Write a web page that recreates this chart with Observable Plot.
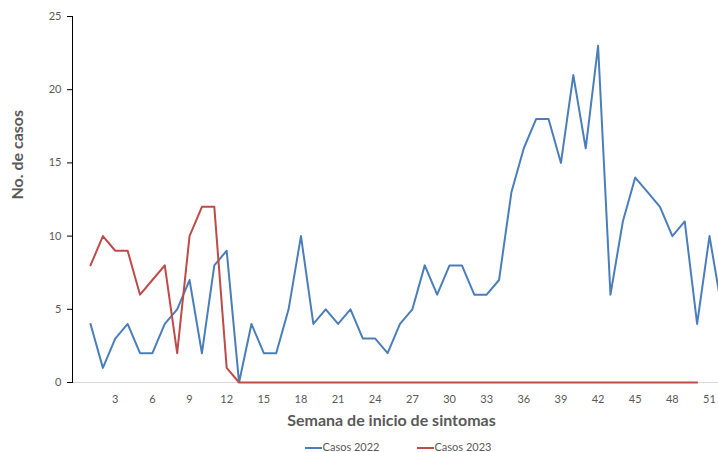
<!DOCTYPE html>
<html><head><meta charset="utf-8">
<script src="https://cdn.jsdelivr.net/npm/d3@7"></script>
<script src="https://cdn.jsdelivr.net/npm/@observablehq/plot@0.6"></script>
<style>
body{margin:0;background:#fff;font-family:Lato,"Open Sans",sans-serif}
#legend{display:flex;justify-content:center;gap:37px;font-size:11px;color:#595959;height:20px;align-items:center;padding-left:78px;margin-top:4px}
.sw{display:inline-block;width:17px;height:2px;vertical-align:middle;margin-right:1px}
</style></head><body><div id="chart"></div><div id="legend"></div>
<script>
const casos2022 = [4,1,3,4,2,2,4,5,7,2,8,9,0,4,2,2,5,10,4,5,4,5,3,3,2,4,5,8,6,8,8,6,6,7,13,16,18,18,15,21,16,23,6,11,14,13,12,10,11,4,10,5];
const casos2023 = [8,10,9,9,6,7,8,2,10,12,12,1,0].concat(new Array(37).fill(0));
const seriesNames = ["Casos 2022", "Casos 2023"];
const seriesColors = ["#4A7EBB", "#BE4B48"];
const xTicks = d3.range(3, 52, 3);
const yTicks = [0, 5, 10, 15, 20, 25];
const xLabel = "Semana de inicio de sintomas";
const yLabel = "No. de casos";

const rows2022 = casos2022.map((v, i) => ({semana: i + 1, casos: v, serie: seriesNames[0]}));
const rows2023 = casos2023.map((v, i) => ({semana: i + 1, casos: v, serie: seriesNames[1]}));

const chart = Plot.plot({
  width: 718,
  height: 432,
  marginLeft: 72,
  marginRight: 0,
  marginTop: 16,
  marginBottom: 50,
  style: {fontFamily: "Lato, 'Open Sans', sans-serif", fontSize: "11px", background: "#fff"},
  x: {domain: [-0.4545, 51.727], axis: null},
  y: {domain: [0, 25], axis: null},
  color: {domain: seriesNames, range: seriesColors},
  marks: [
    Plot.ruleY([0], {stroke: "#d9d9d9", strokeWidth: 1}),
    Plot.line(rows2022, {x: "semana", y: "casos", stroke: "serie", strokeWidth: 2, clip: true}),
    Plot.line(rows2023, {x: "semana", y: "casos", stroke: "serie", strokeWidth: 2}),
    Plot.frame({anchor: "left", stroke: "#000"}),
    Plot.axisY({ticks: yTicks, tickSize: 5, tickPadding: 6, stroke: "#000", fill: "#595959", fontSize: 11, label: null}),
    Plot.axisX({ticks: xTicks, tickSize: 0, tickPadding: 13, fill: "#595959", fontSize: 11, label: null}),
    Plot.text([xLabel], {frameAnchor: "bottom", dy: 43, dx: -4, fontSize: 16, fontWeight: "bold", fill: "#595959"}),
    Plot.text([yLabel], {frameAnchor: "left", dx: -55, rotate: -90, fontSize: 16, fontWeight: "bold", fill: "#595959"})
  ]
});
document.getElementById("chart").appendChild(chart);

const leg = document.getElementById("legend");
seriesNames.forEach((n, i) => {
  const s = document.createElement("span");
  s.innerHTML = `<span class="sw" style="background:${seriesColors[i]}"></span>${n}`;
  leg.appendChild(s);
});
</script>
</body></html>
